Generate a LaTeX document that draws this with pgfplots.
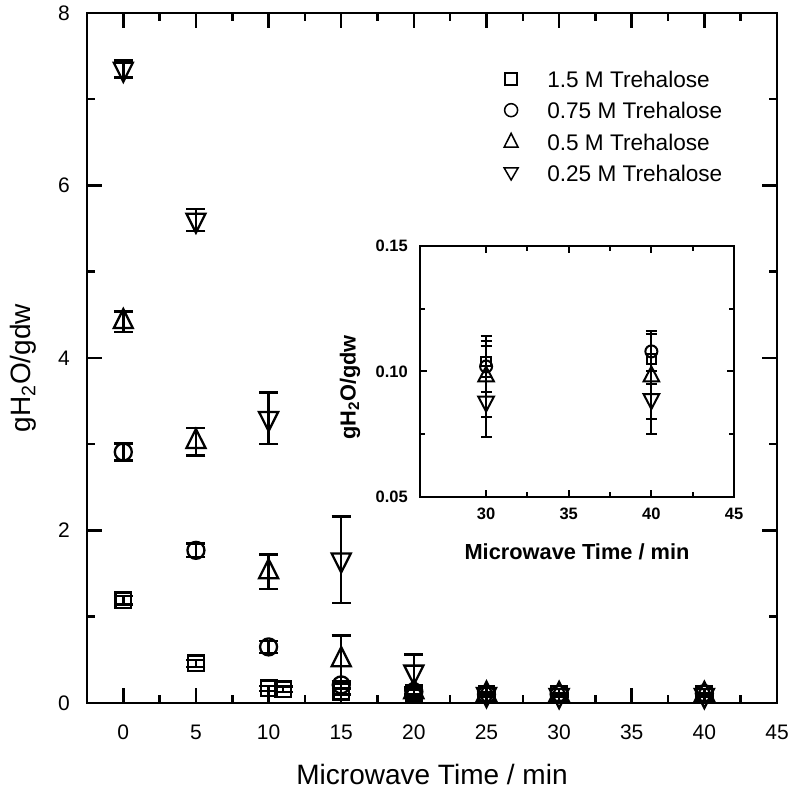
\documentclass[border=0pt]{standalone}
\usepackage{fontspec}
\setmainfont{Liberation Sans}
\usepackage{pgfplots}
\pgfplotsset{compat=1.18}
\usepackage{pgfplotstable}

% x = microwave time (min), y = gH2O/gdw, e = error
\pgfplotstableread{
x   y     e
0   1.19  0.05
5   0.46  0.04
10  0.17  0.03
11  0.16  0.03
15  0.13  0.03
20  0.12  0.03
25  0.11  0.02
30  0.104 0.006
40  0.105 0.010
}\sqdata
\pgfplotstableread{
x   y     e
0   2.91  0.10
5   1.77  0.08
10  0.65  0.07
15  0.21  0.04
20  0.13  0.03
25  0.10  0.02
30  0.102 0.010
40  0.108 0.008
}\cidata
\pgfplotstableread{
x   y     e
0   4.42  0.12
5   3.03  0.16
10  1.52  0.20
15  0.50  0.28
20  0.13  0.05
25  0.10  0.03
30  0.098 0.016
40  0.098 0.017
}\tudata
\pgfplotstableread{
x   y     e
0   7.35  0.10
5   5.60  0.13
10  3.30  0.30
15  1.66  0.50
20  0.36  0.20
25  0.10  0.03
30  0.088 0.014
40  0.089 0.014
}\tddata

% error bars: line width, cap size
\pgfplotsset{
  errs/.style 2 args={
    error bars/y dir=both, error bars/y explicit,
    error bars/error bar style={line width=#1},
    error bars/error mark options={rotate=90, line width=#1, mark size=#2}},
}

\begin{document}
\begin{tikzpicture}
\useasboundingbox (-87pt,-96pt) rectangle (705pt,703pt);
\begin{axis}[
    at={(0pt,0pt)}, anchor=south west,
    scale only axis, width=690pt, height=690pt,
    xmin=-2.5, xmax=45, ymin=0, ymax=8,
    xtick={0,5,...,45}, ytick={0,2,...,8},
    minor x tick num=1, minor y tick num=1,
    major tick length=15pt, minor tick length=8pt,
    axis line style={line width=2.8pt},
    tick style={line width=2.5pt, black},
    clip=false,
    /pgf/number format/assume math mode=true,
    tick label style={font=\fontsize{21}{21}\selectfont},
    xticklabel style={anchor=north, inner sep=0pt, yshift=-22pt},
    yticklabel style={anchor=east, inner sep=0pt, xshift=-17pt},
    xlabel={Microwave Time / min},
    ylabel={gH\textsubscript{2}O/gdw},
    label style={font=\fontsize{28}{28}\selectfont},
    xlabel style={at={(axis description cs:0.5,-0.1043)}, anchor=center},
    ylabel style={at={(axis description cs:-0.0928,0.4855)}, anchor=center},
    legend style={at={(0.6014,0.917)}, anchor=north west, draw=none, fill=none,
      inner sep=0pt, outer sep=0pt, column sep=27pt, row sep=14.4pt,
      font=\fontsize{22.6}{22.6}\selectfont,
      nodes={inner sep=0pt, text height=17pt, text depth=0pt}},
    legend cell align=left,
]
\addplot[black, only marks, line width=2.3pt, mark=square, mark size=7.8pt,
    errs={2.5pt}{9.5pt},
    legend image code/.code={\path (-8pt,0pt) (8pt,0pt);
      \draw[black, line width=1.5pt, mark=square, mark size=6pt] plot coordinates {(0pt,0pt)};}]
  table[x=x, y=y, y error=e] {\sqdata};
\addlegendentry{1.5 M Trehalose}
\addplot[black, only marks, line width=2.3pt, mark=o, mark size=8.5pt,
    errs={2.5pt}{9.5pt},
    legend image code/.code={\path (-8pt,0pt) (8pt,0pt);
      \draw[black, line width=1.5pt, mark=o, mark size=6.5pt] plot coordinates {(0pt,0pt)};}]
  table[x=x, y=y, y error=e] {\cidata};
\addlegendentry{0.75 M Trehalose}
\addplot[black, only marks, line width=2.3pt, mark=triangle, mark size=11pt,
    mark options={yscale=1.15},
    errs={2.5pt}{9.5pt},
    legend image code/.code={\path (-8pt,0pt) (8pt,0pt);
      \draw[black, line width=1.5pt, mark=triangle, mark size=8pt] plot coordinates {(0pt,-1pt)};}]
  table[x=x, y=y, y error=e] {\tudata};
\addlegendentry{0.5 M Trehalose}
\addplot[black, only marks, line width=2.3pt, mark=triangle, mark size=11pt,
    mark options={rotate=180, yscale=1.15},
    errs={2.5pt}{9.5pt},
    legend image code/.code={\path (-8pt,0pt) (8pt,0pt);
      \draw[black, line width=1.5pt, mark=triangle, mark size=8pt, mark options={rotate=180}] plot coordinates {(0pt,1pt)};}]
  table[x=x, y=y, y error=e] {\tddata};
\addlegendentry{0.25 M Trehalose}
\end{axis}

\begin{axis}[
    at={(333pt,206pt)}, anchor=south west,
    scale only axis, width=314pt, height=251pt,
    xmin=26, xmax=45, ymin=0.05, ymax=0.15,
    xtick={30,35,40,45}, ytick={0.05,0.10,0.15},
    minor x tick num=1, minor y tick num=1,
    major tick length=7pt, minor tick length=5pt,
    axis background/.style={fill=white},
    axis line style={line width=2.2pt},
    tick style={line width=2pt, black},
    restrict x to domain=26:45,
    /pgf/number format/assume math mode=true,
    yticklabel style={/pgf/number format/fixed, /pgf/number format/fixed zerofill,
      /pgf/number format/precision=2},
    tick label style={font=\bfseries\fontsize{16.5}{16.5}\selectfont},
    xticklabel style={anchor=north, inner sep=0pt, yshift=-11pt},
    yticklabel style={anchor=east, inner sep=0pt, xshift=-12pt},
    xlabel={Microwave Time / min},
    ylabel={gH\textsubscript{2}O/gdw},
    label style={font=\bfseries\fontsize{21.8}{21.8}\selectfont},
    xlabel style={at={(axis description cs:0.5,-0.2191)}, anchor=center},
    ylabel style={at={(axis description cs:-0.2229,0.436)}, anchor=center},
]
\addplot[black, only marks, line width=2pt, mark=square, mark size=4.8pt,
    errs={2pt}{5.5pt}]
  table[x=x, y=y, y error=e] {\sqdata};
\addplot[black, only marks, line width=2pt, mark=o, mark size=6pt,
    errs={2pt}{5.5pt}]
  table[x=x, y=y, y error=e] {\cidata};
\addplot[black, only marks, line width=2pt, mark=triangle, mark size=9pt,
    mark options={yscale=1.1},
    errs={2pt}{5.5pt}]
  table[x=x, y=y, y error=e] {\tudata};
\addplot[black, only marks, line width=2pt, mark=triangle, mark size=9pt,
    mark options={rotate=180, yscale=1.1},
    errs={2pt}{5.5pt}]
  table[x=x, y=y, y error=e] {\tddata};
\end{axis}
\end{tikzpicture}
\end{document}
